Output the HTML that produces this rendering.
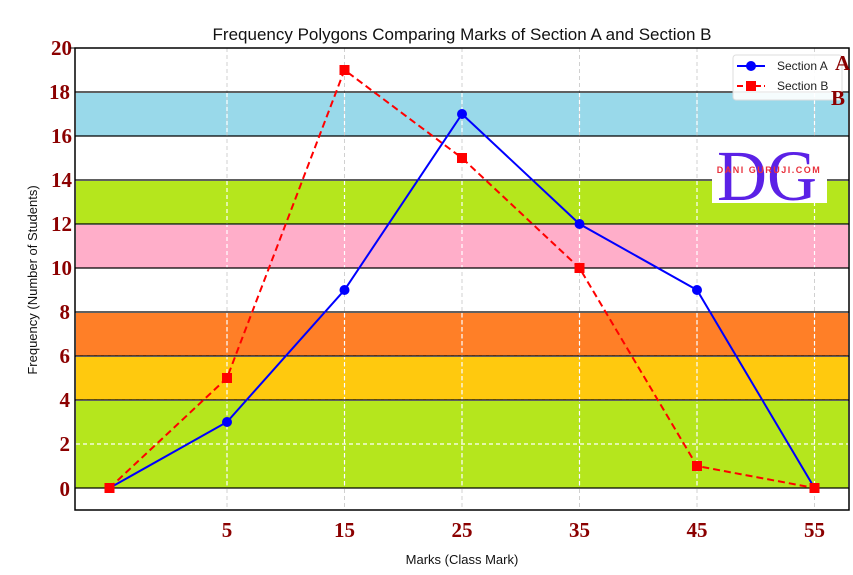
<!DOCTYPE html>
<html><head><meta charset="utf-8"><style>
html,body{margin:0;padding:0;background:#fff;}
svg{display:block;}
.t{font-family:"Liberation Sans",sans-serif;}
.k{font-family:"Liberation Serif",serif;font-weight:bold;fill:#8b0000;font-size:21px;}
</style></head><body>
<svg width="853" height="575" viewBox="0 0 853 575" xmlns="http://www.w3.org/2000/svg">
<rect width="853" height="575" fill="#fff"/>
<text class="t" x="462" y="40" font-size="17" text-anchor="middle" fill="#111">Frequency Polygons Comparing Marks of Section A and Section B</text>
<!-- bands -->
<rect x="76" y="93" width="772" height="43" fill="#99d9ea"/>
<rect x="76" y="181" width="772" height="43" fill="#b5e61d"/>
<rect x="76" y="225" width="772" height="43" fill="#ffaec9"/>
<rect x="76" y="313" width="772" height="43" fill="#ff7f27"/>
<rect x="76" y="357" width="772" height="43" fill="#ffc90e"/>
<rect x="76" y="401" width="772" height="87" fill="#b5e61d"/>
<!-- vertical grid -->
<g stroke="#d0d0d0" stroke-width="1" stroke-dasharray="4,3">
<line x1="227" y1="48" x2="227" y2="510"/><line x1="344.5" y1="48" x2="344.5" y2="510"/>
<line x1="462" y1="48" x2="462" y2="510"/><line x1="579.5" y1="48" x2="579.5" y2="510"/>
<line x1="697" y1="48" x2="697" y2="510"/><line x1="814.5" y1="48" x2="814.5" y2="510"/>
</g>
<g stroke="#fff" stroke-width="1.2" stroke-dasharray="4,3">
<line x1="76" y1="444" x2="848" y2="444"/>
<line x1="76" y1="400" x2="848" y2="400"/>
<line x1="76" y1="356" x2="848" y2="356"/>
<line x1="227" y1="93" x2="227" y2="136"/><line x1="344.5" y1="93" x2="344.5" y2="136"/><line x1="462" y1="93" x2="462" y2="136"/><line x1="579.5" y1="93" x2="579.5" y2="136"/><line x1="697" y1="93" x2="697" y2="136"/><line x1="814.5" y1="93" x2="814.5" y2="136"/>
<line x1="227" y1="181" x2="227" y2="268"/><line x1="344.5" y1="181" x2="344.5" y2="268"/><line x1="462" y1="181" x2="462" y2="268"/><line x1="579.5" y1="181" x2="579.5" y2="268"/><line x1="697" y1="181" x2="697" y2="268"/><line x1="814.5" y1="181" x2="814.5" y2="268"/>
<line x1="227" y1="313" x2="227" y2="488"/><line x1="344.5" y1="313" x2="344.5" y2="488"/><line x1="462" y1="313" x2="462" y2="488"/><line x1="579.5" y1="313" x2="579.5" y2="488"/><line x1="697" y1="313" x2="697" y2="488"/><line x1="814.5" y1="313" x2="814.5" y2="488"/>
</g>
<!-- black band lines -->
<g stroke="#000" stroke-width="1.3">
<line x1="75" y1="92" x2="849" y2="92"/><line x1="75" y1="136" x2="849" y2="136"/>
<line x1="75" y1="180" x2="849" y2="180"/><line x1="75" y1="224" x2="849" y2="224"/>
<line x1="75" y1="268" x2="849" y2="268"/><line x1="75" y1="312" x2="849" y2="312"/>
<line x1="75" y1="356" x2="849" y2="356"/><line x1="75" y1="400" x2="849" y2="400"/>
<line x1="75" y1="488" x2="849" y2="488"/>
</g>
<rect x="75" y="48" width="774" height="462" fill="none" stroke="#000" stroke-width="1.5"/>
<!-- series B -->
<polyline points="109.5,488 227,378 344.5,70 462,158 579.5,268 697,466 814.5,488" fill="none" stroke="#ff0000" stroke-width="2" stroke-dasharray="7,4"/>
<!-- series A -->
<polyline points="109.5,488 227,422 344.5,290 462,114 579.5,224 697,290 814.5,488" fill="none" stroke="#0000ff" stroke-width="2"/>
<g fill="#0000ff">
<circle cx="109.5" cy="488" r="5"/><circle cx="227" cy="422" r="5"/><circle cx="344.5" cy="290" r="5"/><circle cx="462" cy="114" r="5"/><circle cx="579.5" cy="224" r="5"/><circle cx="697" cy="290" r="5"/><circle cx="814.5" cy="488" r="5"/>
</g>
<g fill="#ff0000">
<rect x="104.5" y="483" width="10" height="10"/><rect x="222" y="373" width="10" height="10"/><rect x="339.5" y="65" width="10" height="10"/><rect x="457" y="153" width="10" height="10"/><rect x="574.5" y="263" width="10" height="10"/><rect x="692" y="461" width="10" height="10"/><rect x="809.5" y="483" width="10" height="10"/>
</g>
<!-- y ticks -->
<g class="k" text-anchor="end">
<text x="72" y="55">20</text><text x="70" y="99">18</text><text x="72" y="143">16</text><text x="72" y="187">14</text>
<text x="72" y="231">12</text><text x="72" y="275">10</text><text x="70" y="319">8</text><text x="70" y="363">6</text>
<text x="70" y="407">4</text><text x="70" y="451">2</text><text x="70" y="496">0</text>
</g>
<g stroke="#000"><line x1="70" y1="48" x2="75" y2="48"/></g>
<!-- x ticks -->
<g class="k" text-anchor="middle">
<text x="227" y="537">5</text><text x="344.5" y="537">15</text><text x="462" y="537">25</text><text x="579.5" y="537">35</text><text x="697" y="537">45</text><text x="814.5" y="537">55</text>
</g>
<text class="t" x="462" y="564" font-size="13" text-anchor="middle" fill="#111">Marks (Class Mark)</text>
<text class="t" transform="translate(37,280) rotate(-90)" font-size="13" text-anchor="middle" fill="#111">Frequency (Number of Students)</text>
<!-- legend -->
<rect x="733" y="55" width="109" height="45" rx="3" fill="#fff" fill-opacity="0.9" stroke="#ddd"/>
<line x1="737" y1="66" x2="765" y2="66" stroke="#0000ff" stroke-width="2"/><circle cx="751" cy="66" r="5" fill="#0000ff"/>
<line x1="737" y1="86" x2="765" y2="86" stroke="#ff0000" stroke-width="2" stroke-dasharray="6,3"/><rect x="746" y="81" width="10" height="10" fill="#ff0000"/>
<text class="t" x="777" y="70" font-size="12" fill="#222">Section A</text>
<text class="t" x="777" y="90" font-size="12" fill="#222">Section B</text>
<text x="835" y="70" font-family="Liberation Serif,serif" font-weight="bold" font-size="21" fill="#8b0000">A</text>
<text x="831" y="105" font-family="Liberation Serif,serif" font-weight="bold" font-size="21" fill="#8b0000">B</text>
<!-- logo -->
<rect x="712" y="137" width="115" height="66" fill="#fff"/>
<text x="767" y="200" font-family="Liberation Serif,serif" font-size="72" fill="#5b21e6" text-anchor="middle" textLength="100" lengthAdjust="spacingAndGlyphs">DG</text>
<text class="t" x="769" y="173" font-size="9" font-weight="bold" fill="#e8313c" text-anchor="middle" letter-spacing="1.5">DANI GURUJI.COM</text>
</svg>
</body></html>
